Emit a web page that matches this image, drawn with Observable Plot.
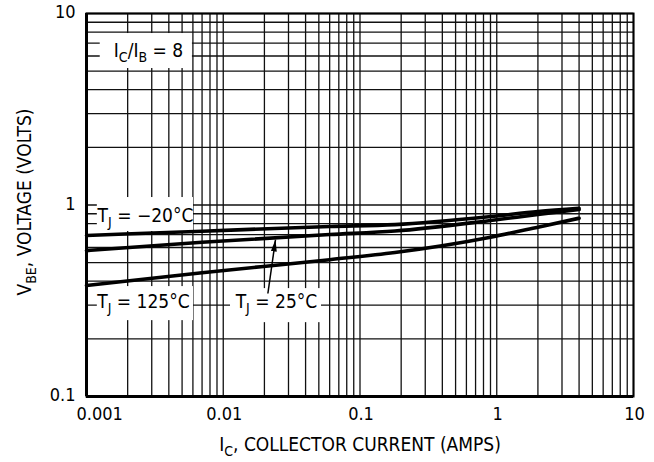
<!DOCTYPE html>
<html>
<head>
<meta charset="utf-8">
<script src="https://cdn.jsdelivr.net/npm/d3@7"></script>
<script src="https://cdn.jsdelivr.net/npm/@observablehq/plot@0.6"></script>
<style>
  html, body { margin: 0; padding: 0; background: #fff; }
  #chart { width: 654px; height: 462px; }
</style>
</head>
<body>
<div id="chart"></div>
<script>
const FONT = '"DejaVu Sans Condensed", "Liberation Sans Narrow", sans-serif';

// ---- data ----
const currentA   = [0.001, 0.007, 0.06, 0.18, 0.9, 2, 4];
const vbeMinus20 = [0.693, 0.73, 0.772, 0.79, 0.87, 0.925, 0.962];
const vbe25      = [0.578, 0.639, 0.701, 0.731, 0.83, 0.892, 0.947];
const vbe125     = [0.38, 0.443, 0.518, 0.565, 0.679, 0.766, 0.853];

const xTicks = [0.001, 0.01, 0.1, 1, 10];
const xTickLabels = ["0.001", "0.01", "0.1", "1", "10"];
const yTicks = [0.1, 1, 10];
const yTickLabels = ["0.1", "1", "10"];

const gridMantissas = [1, 2, 3, 4, 5, 6, 7, 8, 9];
const xDecades = [0.001, 0.01, 0.1, 1];
const yDecades = [0.1, 1];

const xTitle = "I_{C}, COLLECTOR CURRENT (AMPS)";
const yTitle = "V_{BE}, VOLTAGE (VOLTS)";

// annotations in data coordinates (amps, volts)
const labels = [
  {text: "I_{C}/I_{B} = 8", x: 0.00284, y: 6.41, x1: 0.00126, x2: 0.00595, y1: 7.86, y2: 5.16},
  {text: "T_{J} = \u221220°C", x: 0.0027, y: 0.881, x1: 0.0012, x2: 0.00606, y1: 1.094, y2: 0.727},
  {text: "T_{J} = 125°C", x: 0.00261, y: 0.31, x1: 0.0012, x2: 0.00606, y1: 0.375, y2: 0.249},
  {text: "T_{J} = 25°C", x: 0.0245, y: 0.31, x1: 0.0113, x2: 0.0523, y1: 0.366, y2: 0.243}
];
const pointer = [{x1: 0.0212, y1: 0.345, x2: 0.0241, y2: 0.66}];

// ---- build tables ----
const series = [
  {name: "-20", v: vbeMinus20},
  {name: "25", v: vbe25},
  {name: "125", v: vbe125}
];
const curveData = series.flatMap(s => currentA.map((a, i) => ({series: s.name, a, v: s.v[i]})));
const xGrid = xDecades.flatMap(d => gridMantissas.map(m => +(m * d).toPrecision(3))).concat([10]);
const yGrid = yDecades.flatMap(d => gridMantissas.map(m => +(m * d).toPrecision(3))).concat([10]);
const xTickData = xTicks.map((v, i) => ({v, label: xTickLabels[i]}));
const yTickData = yTicks.map((v, i) => ({v, label: yTickLabels[i]}));
const xTickFirst = xTickData.slice(0, 1);
const xTickRest = xTickData.slice(1);

const chart = Plot.plot({
  width: 654,
  height: 462,
  marginLeft: 86,
  marginRight: 21,
  marginTop: 13,
  marginBottom: 66,
  style: {fontFamily: FONT, fontSize: "19px", color: "#000", background: "#fff"},
  x: {type: "log", domain: [0.001, 10], axis: null},
  y: {type: "log", domain: [0.1, 10], axis: null},
  marks: [
    Plot.ruleX(xGrid, {stroke: "#111", strokeWidth: 1.3}),
    Plot.ruleY(yGrid, {stroke: "#111", strokeWidth: 1.3}),
    Plot.rect(labels, {x1: "x1", x2: "x2", y1: "y1", y2: "y2", fill: "#fff"}),
    Plot.line(curveData, {x: "a", y: "v", z: "series", stroke: "#000", strokeWidth: 3.6, curve: "monotone-x"}),
    Plot.text(labels, {x: "x", y: "y", text: "text", fill: "#000", fontSize: 19}),
    Plot.link(pointer, {x1: "x1", y1: "y1", x2: "x2", y2: "y2", stroke: "#000", strokeWidth: 1.5}),
    Plot.ruleX([0.001], {stroke: "#000", strokeWidth: 3}),
    Plot.ruleY([0.1], {stroke: "#000", strokeWidth: 3}),
    Plot.frame({stroke: "#000", strokeWidth: 2}),
    // tick labels
    Plot.text(xTickFirst, {x: "v", text: "label", frameAnchor: "bottom", lineAnchor: "top", textAnchor: "start", dx: -10, dy: 11, fill: "#000", fontSize: 18}),
    Plot.text(xTickRest, {x: "v", text: "label", frameAnchor: "bottom", lineAnchor: "top", textAnchor: "middle", dx: 1, dy: 11, fill: "#000", fontSize: 18}),
    Plot.text(yTickData, {y: "v", text: "label", frameAnchor: "left", lineAnchor: "middle", textAnchor: "end", dx: -11, dy: -1, fill: "#000", fontSize: 18}),
    // axis titles
    Plot.text([xTitle], {frameAnchor: "bottom", lineAnchor: "top", textAnchor: "middle", dy: 41, fill: "#000", fontSize: 19}),
    Plot.text([yTitle], {frameAnchor: "left", rotate: -90, lineAnchor: "middle", textAnchor: "middle", dx: -62, dy: -3, fill: "#000", fontSize: 19})
  ]
});

// subscripts: "_{..}" -> tspan
const NS = "http://www.w3.org/2000/svg";
chart.querySelectorAll("text").forEach(t => {
  const s = t.textContent;
  if (!s.includes("_{")) return;
  while (t.firstChild) t.removeChild(t.firstChild);
  const parts = s.split(/(_\{[^}]*\})/).filter(p => p.length);
  let shifted = false;
  parts.forEach(p => {
    const ts = document.createElementNS(NS, "tspan");
    if (p.startsWith("_{")) {
      ts.textContent = p.slice(2, -1);
      ts.setAttribute("font-size", "14");
      ts.setAttribute("dy", "5");
      shifted = true;
    } else {
      ts.textContent = p;
      if (shifted) { ts.setAttribute("dy", "-5"); shifted = false; }
    }
    t.appendChild(ts);
  });
});

// filled arrowhead for the pointer link
const defs = document.createElementNS(NS, "defs");
const marker = document.createElementNS(NS, "marker");
marker.setAttribute("id", "ahead");
marker.setAttribute("viewBox", "0 0 12 6");
marker.setAttribute("refX", "12");
marker.setAttribute("refY", "3");
marker.setAttribute("markerWidth", "12");
marker.setAttribute("markerHeight", "6");
marker.setAttribute("markerUnits", "userSpaceOnUse");
marker.setAttribute("orient", "auto");
const mp = document.createElementNS(NS, "path");
mp.setAttribute("d", "M0,0L12,3L0,6Z");
mp.setAttribute("fill", "#000");
marker.appendChild(mp);
defs.appendChild(marker);
chart.insertBefore(defs, chart.firstChild);
chart.querySelectorAll('g[aria-label="link"] path').forEach(p => p.setAttribute("marker-end", "url(#ahead)"));

document.getElementById("chart").appendChild(chart);
</script>
</body>
</html>
